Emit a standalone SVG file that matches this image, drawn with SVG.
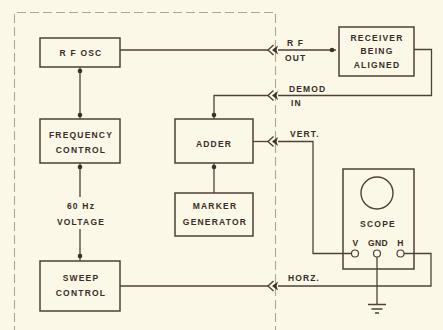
<svg xmlns="http://www.w3.org/2000/svg" width="443" height="330" viewBox="0 0 443 330">
<style>
.bg{fill:#fbf8e7}
.box{fill:none;stroke:#4f4038;stroke-width:1.5}
.w{fill:none;stroke:#4f4038;stroke-width:1.3}
.dash{fill:none;stroke:#b3a596;stroke-width:1.1;stroke-dasharray:9 4}
.dot{fill:#3e302a}
.t{font-family:"Liberation Sans",Arial,sans-serif;font-weight:bold;font-size:8.5px;letter-spacing:1.2px;fill:#3a2d27;text-anchor:middle}
.l{font-family:"Liberation Sans",Arial,sans-serif;font-weight:bold;font-size:8.5px;letter-spacing:1.1px;fill:#3a2d27}
.term{fill:#fbf8e7;stroke:#4f4038;stroke-width:1.2}
</style>
<defs>
<g id="jack">
<path d="M5.5,-5 L0,0 L5.5,5" fill="none" stroke="#4f4038" stroke-width="1.4"/>
<path d="M4,0 L10,-4.5 L8.5,0 L10,4.5 Z" fill="#3e302a"/>
</g>
</defs>
<rect class="bg" x="0" y="0" width="443" height="330"/>
<path class="dash" d="M14.5,335 L14.5,12.5 L275.5,12.5 L275.5,335"/>

<g id="connectors">
<path class="w" d="M120,50 L268,50"/>
<path class="w" d="M278,50 L336,50"/>
<circle class="dot" cx="332" cy="50" r="2.3"/>
<path class="w" d="M414,49.5 L431.5,49.5 L431.5,95.5 L278,95.5"/>
<path class="w" d="M268,95.5 L214,95.5 L214,119"/>
<circle class="dot" cx="214" cy="115" r="2.3"/>
<path class="w" d="M253,141.5 L268,141.5"/>
<path class="w" d="M278,141.5 L313,141.5 L313,253.5 L351.5,253.5"/>
<path class="w" d="M214,163 L214,193"/>
<circle class="dot" cx="214" cy="167" r="2.3"/>
<path class="w" d="M80,67 L80,119"/>
<circle class="dot" cx="80" cy="71" r="2.3"/>
<circle class="dot" cx="80" cy="115" r="2.3"/>
<path class="w" d="M80,163 L80,197"/>
<path class="w" d="M80,229 L80,261"/>
<circle class="dot" cx="80" cy="167" r="2.3"/>
<circle class="dot" cx="80" cy="256" r="2.3"/>
<path class="w" d="M120,286 L268,286"/>
<path class="w" d="M278,286 L431,286 L431,253.5 L404,253.5"/>
<path class="w" d="M377,257 L377,304"/>
<path class="w" d="M368,304.5 L386,304.5 M371.5,309 L382.5,309 M375,313 L379,313"/>
<use href="#jack" x="268" y="50"/>
<use href="#jack" x="268" y="95.5"/>
<use href="#jack" x="268" y="141.5"/>
<use href="#jack" x="268" y="286"/>
</g>

<g id="rf-osc">
<rect class="box" x="40" y="38" width="80" height="29"/>
<text class="t" x="81" y="55.5">R F OSC</text>
</g>
<g id="frequency-control">
<rect class="box" x="40" y="119" width="80" height="44"/>
<text class="t" x="81" y="137.5">FREQUENCY</text>
<text class="t" x="81" y="152.5">CONTROL</text>
</g>
<g id="voltage-label">
<text class="t" x="81" y="209">60 Hz</text>
<text class="t" x="81" y="225">VOLTAGE</text>
</g>
<g id="sweep-control">
<rect class="box" x="40" y="261" width="80" height="50"/>
<text class="t" x="81" y="281">SWEEP</text>
<text class="t" x="81" y="296">CONTROL</text>
</g>
<g id="adder">
<rect class="box" x="175" y="119" width="78" height="44"/>
<text class="t" x="214" y="146.5">ADDER</text>
</g>
<g id="marker-generator">
<rect class="box" x="175" y="193" width="78" height="43"/>
<text class="t" x="215" y="209">MARKER</text>
<text class="t" x="215" y="225">GENERATOR</text>
</g>
<g id="receiver">
<rect class="box" x="339" y="27" width="75" height="49"/>
<text class="t" x="377" y="40.5">RECEIVER</text>
<text class="t" x="377" y="54">BEING</text>
<text class="t" x="377" y="67.5">ALIGNED</text>
</g>
<g id="scope">
<rect class="box" x="343" y="169" width="71" height="100"/>
<circle cx="377" cy="193" r="16" fill="none" stroke="#4f4038" stroke-width="1.4"/>
<text class="t" x="378" y="226.5">SCOPE</text>
<text class="t" x="356" y="246">V</text>
<text class="t" x="378" y="246" style="letter-spacing:0.3px">GND</text>
<text class="t" x="401" y="246">H</text>
<circle class="term" cx="355" cy="253.5" r="3.5"/>
<circle class="term" cx="377" cy="253.5" r="3.5"/>
<circle class="term" cx="400.5" cy="253.5" r="3.5"/>
</g>
<g id="labels">
<text class="l" x="287" y="46">R F</text>
<text class="l" x="285" y="61">OUT</text>
<text class="l" x="289" y="92">DEMOD</text>
<text class="l" x="291" y="106">IN</text>
<text class="l" x="290" y="137">VERT.</text>
<text class="l" x="288" y="281">HORZ.</text>
</g>
</svg>
